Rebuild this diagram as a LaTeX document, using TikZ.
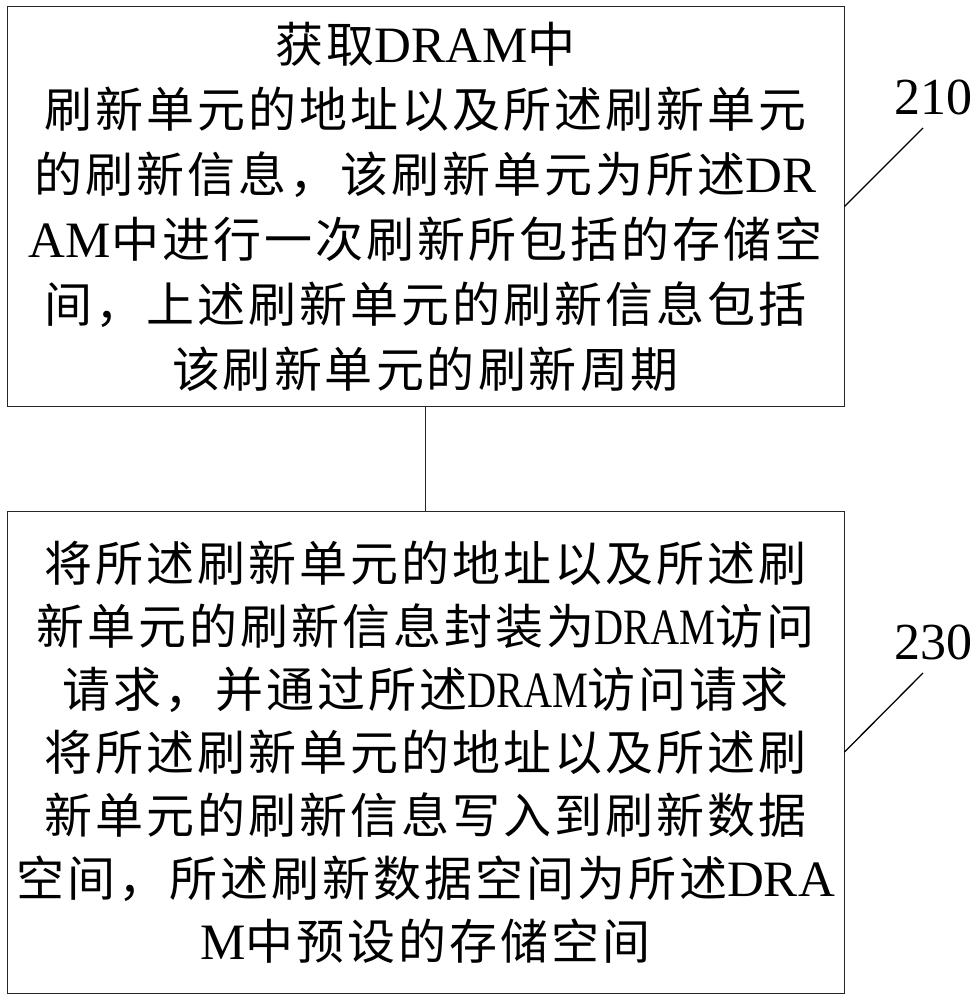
\documentclass[tikz,border=0pt]{standalone}
\usepackage{fontspec}
\usepackage{graphicx}
\setmainfont{Liberation Serif}
\newfontfamily\cjk[LetterSpace=6.25]{Noto Sans CJK SC}
\newcommand\en[1]{{\rmfamily\fontsize{51}{63}\selectfont #1}}
\newcommand\ennarrow[1]{\scalebox{0.79}[1]{\en{#1}}}
\tikzset{
	stepbox/.style={draw=black!85, line width=1pt, minimum width=837pt, align=center, inner sep=0pt, font=\cjk\fontsize{48}{63}\selectfont},
	tag/.style={inner sep=0pt, font=\rmfamily\fontsize{52}{60}\selectfont},
	leader/.style={line width=1.3pt},
}
\begin{document}
\begin{tikzpicture}[x=1pt,y=-1pt]
			\useasboundingbox (0,0) rectangle (979,1000);
			
			\node[stepbox, minimum height=399pt] (box1) at (425.5,206.5) {获取\en{DRAM}中\\[2pt]
				刷新单元的地址以及所述刷新单元\\[2pt]
				的刷新信息，该刷新单元为所述\en{DR}\\[2pt]
				\en{AM}中进行一次刷新所包括的存储空\\[2pt]
				间，上述刷新单元的刷新信息包括\\[2pt]
				该刷新单元的刷新周期};
			\node[stepbox, minimum height=482pt] (box2) at (425.5,752) {将所述刷新单元的地址以及所述刷\\
				新单元的刷新信息封装为\ennarrow{DRAM}访问\\
				请求，并通过所述\ennarrow{DRAM}访问请求\\
				将所述刷新单元的地址以及所述刷\\
				新单元的刷新信息写入到刷新数据\\
				空间，所述刷新数据空间为所述\en{DRA}\\
				\en{M}中预设的存储空间};
			\draw[draw=black!85, line width=1pt] (box1) -- (box2);
			
			\node[tag] (t210) at (933,97) {210};
			\coordinate (e210) at (923,128);
			\draw[leader] (box1.east) -- (e210);
			\node[tag] (t230) at (933,642) {230};
			\coordinate (e230) at (923,673);
			\draw[leader] (box2.east) -- (e230);
		\end{tikzpicture}
\end{document}
